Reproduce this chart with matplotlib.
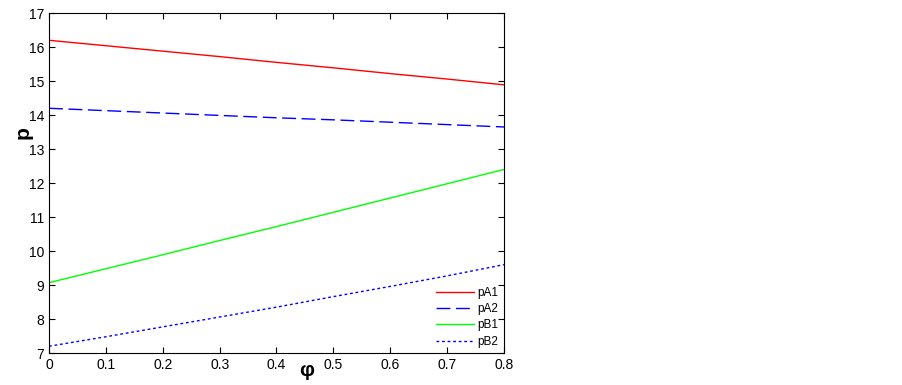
import numpy as np
import matplotlib as mplt
mplt.use("Agg")
import matplotlib.pyplot as plt

phi = [0.0, 0.1, 0.2, 0.3, 0.4, 0.5, 0.6, 0.7, 0.8]
pA1 = [16.20, 16.04, 15.88, 15.72, 15.55, 15.39, 15.22, 15.06, 14.89]
pA2 = [14.20, 14.13, 14.06, 13.99, 13.92, 13.86, 13.79, 13.72, 13.65]
pB1 = [9.07, 9.48, 9.89, 10.31, 10.72, 11.14, 11.56, 11.98, 12.40]
pB2 = [7.20, 7.48, 7.77, 8.06, 8.35, 8.66, 8.96, 9.27, 9.60]

plt.rcParams["font.family"] = ["Liberation Sans", "DejaVu Sans"]

fig = plt.figure(figsize=(9.03, 3.85), dpi=100)
ax = fig.add_axes([0.0543, 0.083, 0.5038, 0.883])

ax.plot(phi, pA1, c="#ff0000", lw=1.0, ls="-", label="pA1")
ax.plot(phi, pA2, c="#0000ff", lw=1.0, ls=(0, (10, 4)), label="pA2")
ax.plot(phi, pB1, c="#00ff00", lw=1.0, ls="-", label="pB1")
ax.plot(phi, pB2, c="#0000ff", lw=1.0, ls=(0, (2, 2)), label="pB2")

ax.set_xlim(0, 0.8)
ax.set_ylim(7, 17)
ax.set_xticks(np.arange(0, 0.81, 0.1))
ax.set_xticklabels(["0", "0.1", "0.2", "0.3", "0.4", "0.5", "0.6", "0.7", "0.8"])
ax.set_yticks(range(7, 18))
ax.tick_params(axis="both", direction="in", top=True, right=True, labelsize=10, length=4, width=0.8)
for s in ax.spines.values():
    s.set_linewidth(0.8)

# axis labels placed like the original (phi sits between the 0.4 and 0.5 tick labels)
ax.text(0.565, -0.05, "φ", transform=ax.transAxes, fontsize=15, fontweight="bold",
        ha="center", va="center")
ax.text(-0.057, 0.65, "p", transform=ax.transAxes, fontsize=15, fontweight="bold",
        ha="center", va="center", rotation=90)

ax.legend(loc="lower right", frameon=False, fontsize=8.5, handlelength=3.2,
          handletextpad=0.3, labelspacing=0.36, borderaxespad=0.05)

fig.savefig("out.png", dpi=100)
